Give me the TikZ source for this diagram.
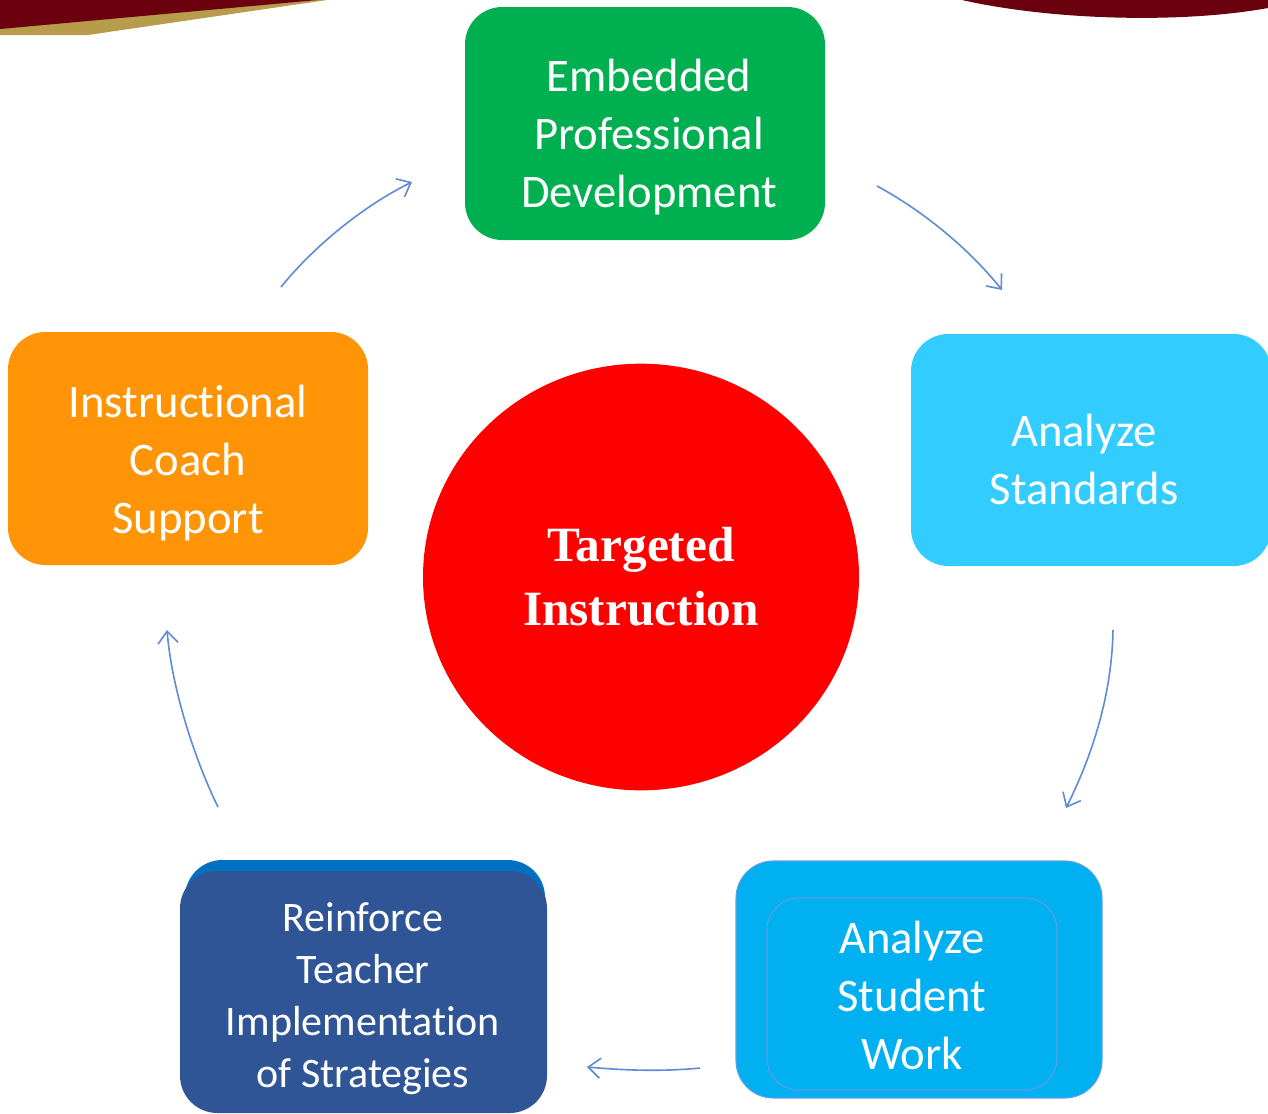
\documentclass[tikz,border=0pt]{standalone}
\usepackage{fontspec}
\setmainfont{Carlito}[Ligatures={NoCommon,TeX}]
\newfontfamily\tiserif{Liberation Serif}
\usetikzlibrary{arrows.meta,shapes.geometric}
\definecolor{cgreen}{HTML}{00B050}
\definecolor{clight}{HTML}{33CCFF}
\definecolor{cblue}{HTML}{00B0F0}
\definecolor{cnavy}{HTML}{2F5597}
\definecolor{cnavyback}{HTML}{0070C0}
\definecolor{corange}{HTML}{FF9406}
\definecolor{cred}{HTML}{FF0000}
\definecolor{carrow}{HTML}{5E8AD8}
\definecolor{cmaroon}{HTML}{6B000F}
\definecolor{cgold}{HTML}{B69C4B}
\definecolor{cedge}{HTML}{5F9FE6}
\tikzset{
  box/.style={rectangle, rounded corners=28pt, inner sep=0pt, draw=none},
  boxtext/.style={text=white, align=center, font=\fontsize{35}{43.5}\selectfont, inner sep=0pt},
  smalltext/.style={text=white, align=center, font=\fontsize{31.5}{39}\selectfont, inner sep=0pt},
  cyc/.style={draw=carrow, line width=1.2pt, -{Straight Barb[length=9pt,width=15pt,line width=1.2pt]}}
}
\begin{document}
\begin{tikzpicture}[x=0.75pt,y=-0.75pt]
\useasboundingbox (0,0) rectangle (1268,1114);
\clip (0,0) rectangle (1268,1114);
% decorations
\fill[cgold] (0,27) -- (317,0) -- (327,0) -- (88,35) -- (0,35) -- cycle;
\fill[cmaroon] (0,0) -- (318,0) -- (0,29) -- cycle;
\fill[cmaroon] (962,0) .. controls (1050,20) and (1180,24) .. (1268,8) -- (1268,0) -- cycle;
% boxes
\node[box, fill=cgreen, minimum width=270pt, minimum height=174.75pt] (epd) at (645,123.5) {};
\node[boxtext] (epdt) at (649,137) {Embedded\\Professional\\Development};
\node[box, fill=clight, minimum width=270pt, minimum height=174pt] (as) at (1091,450) {};
\node[boxtext] (ast) at (1084,459) {Analyze\\Standards};
\node[box, fill=cblue, draw=cedge, line width=0.8pt, minimum width=274.5pt, minimum height=177.75pt] (asw) at (919,979.5) {};
\node[box, rounded corners=24pt, draw=cedge, line width=0.8pt, minimum width=217.5pt, minimum height=144pt] (aswin) at (912,994) {};
\node[boxtext] (aswt) at (912,995) {Analyze\\Student\\Work};
\node[box, fill=cnavyback, minimum width=270pt, minimum height=165pt] (rtback) at (365,970) {};
\node[box, fill=cnavy, minimum width=275.25pt, minimum height=181.5pt] (rt) at (363.5,992) {};
\node[smalltext] (rtt) at (363,999) {Reinforce\\Teacher\\Implementation\\of Strategies};
\node[box, fill=corange, minimum width=270pt, minimum height=174.75pt] (ics) at (188,448.5) {};
\node[boxtext] (icst) at (188,463) {Instructional\\Coach\\Support};
\node[ellipse, fill=cred, inner sep=0pt, minimum width=327pt, minimum height=320pt] (ti) at (641,577) {};
\node[text=white, align=center, inner sep=0pt, font=\tiserif\bfseries\fontsize{37}{48}\selectfont] (tit) at (641,577) {Targeted\\Instruction};
% arrow end points
\coordinate (a1s) at (281,287); \coordinate (a1e) at (412,182);
\coordinate (a2s) at (877,186); \coordinate (a2e) at (1002,290);
\coordinate (a3s) at (1113,630); \coordinate (a3e) at (1066,808);
\coordinate (a4s) at (700,1068); \coordinate (a4e) at (587,1067);
\coordinate (a5s) at (218,807); \coordinate (a5e) at (167,630);
\draw[cyc] (a1s) .. controls (315,245) and (365,205) .. (a1e);
\draw[cyc] (a2s) .. controls (925,212) and (970,250) .. (a2e);
\draw[cyc] (a3s) .. controls (1112,690) and (1095,750) .. (a3e);
\draw[cyc] (a4s) .. controls (660,1072) and (620,1070) .. (a4e);
\draw[cyc] (a5s) .. controls (195,760) and (172,690) .. (a5e);
\end{tikzpicture}
\end{document}
